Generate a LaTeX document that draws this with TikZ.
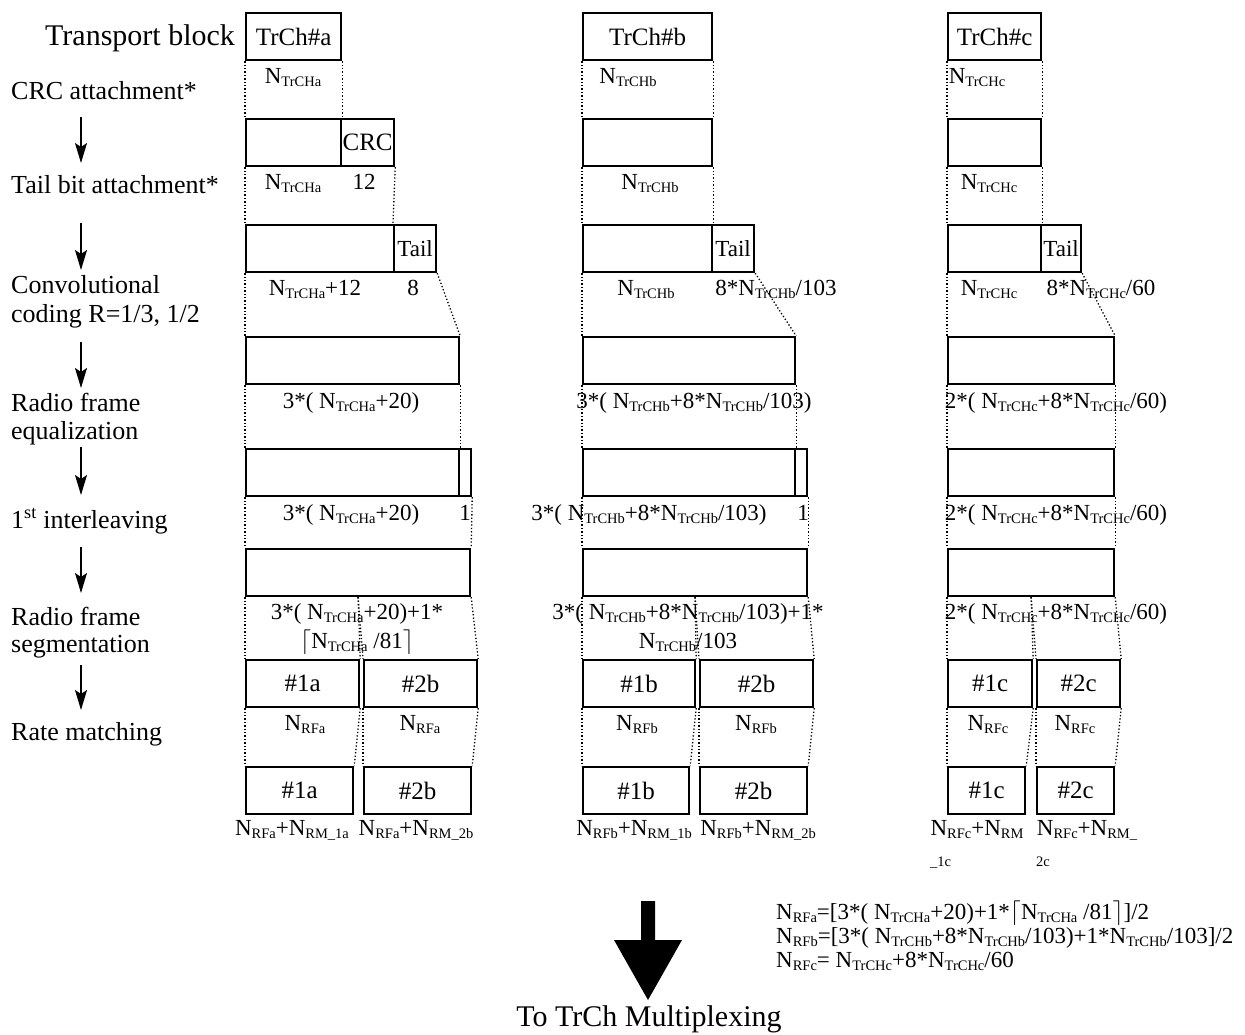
\documentclass[tikz,border=0pt]{standalone}
\usepackage{fontspec}
\setmainfont{Liberation Serif}
\usetikzlibrary{arrows.meta}
% N with a lowered, smaller index
\newcommand\Nx[1]{N\raisebox{-3pt}{\fontsize{14.5}{14.5}\selectfont #1}}
\begin{document}
\begin{tikzpicture}[x=1pt,y=-1pt,
  blk/.style={draw, line width=2.2pt, inner sep=0pt, anchor=north west,
    minimum height=47pt, font=\fontsize{25}{25}\selectfont},
  tailblk/.style={blk, font=\fontsize{23}{23}\selectfont},
  guide/.style={line width=1.3pt, dash pattern=on 1.3pt off 2.1pt},
  lbl/.style={anchor=base, inner sep=0pt, font=\fontsize{23}{23}\selectfont},
  side/.style={anchor=base west, inner sep=0pt, font=\fontsize{26}{26}\selectfont},
  flowarrow/.style={line width=1.5pt, -{Stealth[length=20pt,width=12pt,inset=4pt]}}]
\useasboundingbox (0,0) rectangle (1245,1034);
\fill[white] (0,0) rectangle (1245,1034);

% ---------- processing steps on the left ----------
\node[anchor=base west, inner sep=0pt, font=\fontsize{30}{30}\selectfont] (sTB) at (45,45) {Transport block};
\node[side] (sCRC) at (11,99) {CRC attachment*};
\node[side] (sTail) at (11,193) {Tail bit attachment*};
\node[side] (sConv1) at (11,293) {Convolutional};
\node[side] (sConv2) at (11,322) {coding R=1/3, 1/2};
\node[side] (sEq1) at (11,411) {Radio frame};
\node[side] (sEq2) at (11,439) {equalization};
\node[side] (sIl) at (11,528) {1\textsuperscript{st} interleaving};
\node[side] (sSeg1) at (11,625) {Radio frame};
\node[side] (sSeg2) at (11,652) {segmentation};
\node[side] (sRM) at (11,740) {Rate matching};

\foreach \i/\ya/\yb in {1/117/163, 2/223/270, 3/342/388, 4/447/495, 5/547/593, 6/665/710}{
  \coordinate (fs\i) at (81,\ya);
  \coordinate (fe\i) at (81,\yb);
  \draw[flowarrow] (fs\i) -- (fe\i);
}

% ---------- transport channel a ----------
\node[blk, minimum width=95pt] (a1) at (245,12) {TrCh\#a};
\node[blk, minimum width=95pt] (a2) at (245,118) {};
\node[blk, minimum width=53pt] (a2c) at (340,118) {CRC};
\node[blk, minimum width=148pt] (a3) at (245,224) {};
\node[tailblk, minimum width=42pt] (a3t) at (393,224) {Tail};
\node[blk, minimum width=213pt] (a4) at (245,336) {};
\node[blk, minimum width=213pt] (a5) at (245,448) {};
\node[blk, minimum width=12pt] (a5p) at (458,448) {};
\node[blk, minimum width=224pt] (a6) at (245,548) {};
\node[blk, minimum width=113pt] (a7l) at (245,659) {\#1a};
\node[blk, minimum width=113pt] (a7r) at (363,659) {\#2b};
\node[blk, minimum width=107pt] (a8l) at (245,766) {\#1a};
\node[blk, minimum width=107pt] (a8r) at (363,766) {\#2b};

\draw[guide] (a1.south west) -- (a2.north west);
\draw[guide] (a1.south east) -- (a2.north east);
\draw[guide] (a2.south west) -- (a3.north west);
\draw[guide] (a2c.south east) -- (a3t.north west);
\draw[guide] (a3.south west) -- (a4.north west);
\draw[guide] (a3t.south east) -- (a4.north east);
\draw[guide] (a4.south west) -- (a5.north west);
\draw[guide] (a4.south east) -- (a5.north east);
\draw[guide] (a5.south west) -- (a6.north west);
\draw[guide] (a5p.south east) -- (a6.north east);
\draw[guide] (a6.south west) -- (a7l.north west);
\draw[guide] (a6.south) -- (a7l.north east);
\draw[guide] (a6.south) -- (a7r.north west);
\draw[guide] (a6.south east) -- (a7r.north east);
\draw[guide] (a7l.south west) -- (a8l.north west);
\draw[guide] (a7l.south east) -- (a8l.north east);
\draw[guide] (a7r.south west) -- (a8r.north west);
\draw[guide] (a7r.south east) -- (a8r.north east);

\node[lbl] (la1) at (293,83) {\Nx{TrCHa}};
\node[lbl] (la2) at (293,189) {\Nx{TrCHa}};
\node[lbl] (la2c) at (364,189) {12};
\node[lbl] (la3) at (315,295) {\Nx{TrCHa}+12};
\node[lbl] (la3t) at (413,295) {8};
\node[lbl] (la4) at (351,408) {3*( \Nx{TrCHa}+20)};
\node[lbl] (la5) at (351,520) {3*( \Nx{TrCHa}+20)};
\node[lbl] (la5p) at (465,520) {1};
\node[lbl] (la6) at (357,619) {3*( \Nx{TrCHa}+20)+1*};
\node[lbl] (la6b) at (357,648) {$\lceil$\Nx{TrCHa} /81$\rceil$};
\node[lbl] (la7l) at (305,730) {\Nx{RFa}};
\node[lbl] (la7r) at (420,730) {\Nx{RFa}};
\node[lbl] (la8l) at (292,835) {\Nx{RFa}+\Nx{RM\_1a}};
\node[lbl] (la8r) at (416,835) {\Nx{RFa}+\Nx{RM\_2b}};

% ---------- transport channel b ----------
\node[blk, minimum width=129pt] (b1) at (582,12) {TrCh\#b};
\node[blk, minimum width=129pt] (b2) at (582,118) {};
\node[blk, minimum width=129pt] (b3) at (582,224) {};
\node[tailblk, minimum width=42pt] (b3t) at (711,224) {Tail};
\node[blk, minimum width=212pt] (b4) at (582,336) {};
\node[blk, minimum width=212pt] (b5) at (582,448) {};
\node[blk, minimum width=12pt] (b5p) at (794,448) {};
\node[blk, minimum width=224pt] (b6) at (582,548) {};
\node[blk, minimum width=112pt] (b7l) at (582,659) {\#1b};
\node[blk, minimum width=113pt] (b7r) at (699,659) {\#2b};
\node[blk, minimum width=106pt] (b8l) at (582,766) {\#1b};
\node[blk, minimum width=107pt] (b8r) at (699,766) {\#2b};

\draw[guide] (b1.south west) -- (b2.north west);
\draw[guide] (b1.south east) -- (b2.north east);
\draw[guide] (b2.south west) -- (b3.north west);
\draw[guide] (b2.south east) -- (b3.north east);
\draw[guide] (b3.south west) -- (b4.north west);
\draw[guide] (b3t.south east) -- (b4.north east);
\draw[guide] (b4.south west) -- (b5.north west);
\draw[guide] (b4.south east) -- (b5.north east);
\draw[guide] (b5.south west) -- (b6.north west);
\draw[guide] (b5p.south east) -- (b6.north east);
\draw[guide] (b6.south west) -- (b7l.north west);
\draw[guide] (b6.south) -- (b7l.north east);
\draw[guide] (b6.south) -- (b7r.north west);
\draw[guide] (b6.south east) -- (b7r.north east);
\draw[guide] (b7l.south west) -- (b8l.north west);
\draw[guide] (b7l.south east) -- (b8l.north east);
\draw[guide] (b7r.south west) -- (b8r.north west);
\draw[guide] (b7r.south east) -- (b8r.north east);

\node[lbl] (lb1) at (628,83) {\Nx{TrCHb}};
\node[lbl] (lb2) at (650,189) {\Nx{TrCHb}};
\node[lbl] (lb3) at (646,295) {\Nx{TrCHb}};
\node[lbl] (lb3t) at (776,295) {8*\Nx{TrCHb}/103};
\node[lbl] (lb4) at (694,408) {3*( \Nx{TrCHb}+8*\Nx{TrCHb}/103)};
\node[lbl] (lb5) at (649,520) {3*( \Nx{TrCHb}+8*\Nx{TrCHb}/103)};
\node[lbl] (lb5p) at (803,520) {1};
\node[lbl] (lb6) at (688,619) {3*( \Nx{TrCHb}+8*\Nx{TrCHb}/103)+1*};
\node[lbl] (lb6b) at (688,648) {\Nx{TrCHb}/103};
\node[lbl] (lb7l) at (637,730) {\Nx{RFb}};
\node[lbl] (lb7r) at (756,730) {\Nx{RFb}};
\node[lbl] (lb8l) at (634,835) {\Nx{RFb}+\Nx{RM\_1b}};
\node[lbl] (lb8r) at (758,835) {\Nx{RFb}+\Nx{RM\_2b}};

% ---------- transport channel c ----------
\node[blk, minimum width=93pt] (c1) at (947,12) {TrCh\#c};
\node[blk, minimum width=93pt] (c2) at (947,118) {};
\node[blk, minimum width=93pt] (c3) at (947,224) {};
\node[tailblk, minimum width=40pt] (c3t) at (1040,224) {Tail};
\node[blk, minimum width=166pt] (c4) at (947,336) {};
\node[blk, minimum width=166pt] (c5) at (947,448) {};
\node[blk, minimum width=166pt] (c6) at (947,548) {};
\node[blk, minimum width=84pt] (c7l) at (947,659) {\#1c};
\node[blk, minimum width=83pt] (c7r) at (1036,659) {\#2c};
\node[blk, minimum width=77pt] (c8l) at (947,766) {\#1c};
\node[blk, minimum width=77pt] (c8r) at (1036,766) {\#2c};

\draw[guide] (c1.south west) -- (c2.north west);
\draw[guide] (c1.south east) -- (c2.north east);
\draw[guide] (c2.south west) -- (c3.north west);
\draw[guide] (c2.south east) -- (c3.north east);
\draw[guide] (c3.south west) -- (c4.north west);
\draw[guide] (c3t.south east) -- (c4.north east);
\draw[guide] (c4.south west) -- (c5.north west);
\draw[guide] (c4.south east) -- (c5.north east);
\draw[guide] (c5.south west) -- (c6.north west);
\draw[guide] (c5.south east) -- (c6.north east);
\draw[guide] (c6.south west) -- (c7l.north west);
\draw[guide] (c6.south) -- (c7l.north east);
\draw[guide] (c6.south) -- (c7r.north west);
\draw[guide] (c6.south east) -- (c7r.north east);
\draw[guide] (c7l.south west) -- (c8l.north west);
\draw[guide] (c7l.south east) -- (c8l.north east);
\draw[guide] (c7r.south west) -- (c8r.north west);
\draw[guide] (c7r.south east) -- (c8r.north east);

\node[lbl] (lc1) at (977,83) {\Nx{TrCHc}};
\node[lbl] (lc2) at (989,189) {\Nx{TrCHc}};
\node[lbl] (lc3) at (989,295) {\Nx{TrCHc}};
\node[lbl] (lc3t) at (1101,295) {8*\Nx{TrCHc}/60};
\node[lbl] (lc4) at (1056,408) {2*( \Nx{TrCHc}+8*\Nx{TrCHc}/60)};
\node[lbl] (lc5) at (1056,520) {2*( \Nx{TrCHc}+8*\Nx{TrCHc}/60)};
\node[lbl] (lc6) at (1056,619) {2*( \Nx{TrCHc}+8*\Nx{TrCHc}/60)};
\node[lbl] (lc7l) at (988,730) {\Nx{RFc}};
\node[lbl] (lc7r) at (1075,730) {\Nx{RFc}};
\node[lbl] (lc8l) at (977,835) {\Nx{RFc}+\Nx{RM}};
\node[lbl] (lc8r) at (1087,835) {\Nx{RFc}+\Nx{RM\_}};
\node[anchor=base west, inner sep=0pt, font=\fontsize{14.5}{14.5}\selectfont] (lc8lb) at (930,866) {\_1c};
\node[anchor=base west, inner sep=0pt, font=\fontsize{14.5}{14.5}\selectfont] (lc8rb) at (1036,866) {2c};

% ---------- output towards multiplexing ----------
\node[anchor=base, inner sep=0pt, font=\fontsize{30}{30}\selectfont] (mux) at (649,1026) {To TrCh Multiplexing};
\fill (641,901) -- (655,901) -- (655,940) -- (682,940) -- (648,1000) -- (614,940) -- (641,940) -- cycle;

% ---------- block sizes ----------
\node[lbl, anchor=base west] (eqa) at (776,919) {\Nx{RFa}=[3*( \Nx{TrCHa}+20)+1*$\lceil$\Nx{TrCHa} /81$\rceil$]/2};
\node[lbl, anchor=base west] (eqb) at (776,943) {\Nx{RFb}=[3*( \Nx{TrCHb}+8*\Nx{TrCHb}/103)+1*\Nx{TrCHb}/103]/2};
\node[lbl, anchor=base west] (eqc) at (776,967) {\Nx{RFc}= \Nx{TrCHc}+8*\Nx{TrCHc}/60};
\end{tikzpicture}
\end{document}
